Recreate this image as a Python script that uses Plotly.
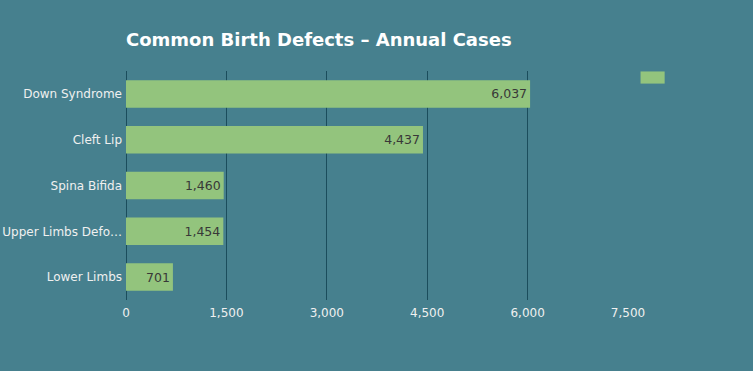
import plotly.graph_objects as go

categories = ["Down Syndrome", "Cleft Lip", "Spina Bifida", "Upper Limbs Defo…", "Lower Limbs"]
values = [6037, 4437, 1460, 1454, 701]
tick_vals = [0, 1500, 3000, 4500, 6000, 7500]
tick_text = ["0", "1,500", "3,000", "4,500", "6,000", "7,500"]

BG = "#46808E"
BAR = "#93C47D"
GRID = "#1B4D5C"
FONT = "DejaVu Sans, Verdana, sans-serif"

fig = go.Figure(go.Bar(
    y=categories, x=values, orientation="h",
    marker=dict(color=BAR, line=dict(width=0)),
    text=[f"{v:,}" for v in values], textposition="inside", insidetextanchor="end",
    textfont=dict(color="#383838", size=12.5, family=FONT),
    showlegend=False, name="",
))

fig.update_layout(
    width=753, height=371,
    paper_bgcolor=BG, plot_bgcolor=BG,
    margin=dict(l=126, r=125, t=71, b=71),
    bargap=0.4,
    font=dict(family=FONT, color="#F0F0F0", size=12),
    title=dict(text="<b>Common Birth Defects – Annual Cases</b>", x=0, xref="paper", xanchor="left",
               y=0.893, yref="container", yanchor="middle",
               font=dict(size=18, color="#FFFFFF", family=FONT)),
    xaxis=dict(range=[0, 7500], tickvals=tick_vals, ticktext=tick_text,
               showgrid=True, gridcolor=GRID, gridwidth=1,
               zeroline=True, zerolinecolor=GRID, zerolinewidth=1,
               showline=False, ticks="", ticklabelstandoff=4, tickfont=dict(size=12, color="#F0F0F0"),
               automargin=False, fixedrange=True),
    yaxis=dict(autorange="reversed", showgrid=False, ticks="", ticklabelstandoff=3,
               tickfont=dict(size=12, color="#F0F0F0"), showline=False, automargin=False),
    shapes=[dict(type="rect", xref="paper", yref="paper", x0=1.025, x1=1.073, y0=0.945, y1=0.998,
                 fillcolor=BAR, line=dict(width=0))],
)

fig.write_html("out.html", config={"displayModeBar": False},
               post_script="document.body.style.margin='0';")
